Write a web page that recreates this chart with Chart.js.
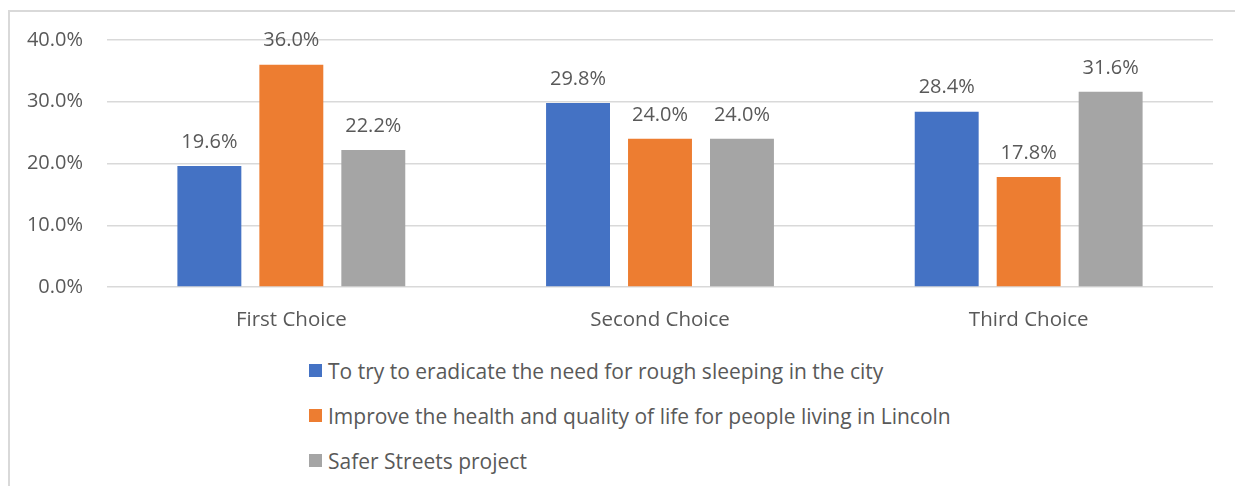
<!DOCTYPE html>
<html>
<head>
<meta charset="utf-8">
<script src="https://cdn.jsdelivr.net/npm/chart.js@4"></script>
<style>
  body { margin: 0; background: #fff; width: 1235px; height: 486px; overflow: hidden; position: relative; font-family: "Open Sans", sans-serif; }
  #frame { position: absolute; left: 8px; top: 10px; width: 1400px; height: 600px; border: 2px solid #d9d9d9; box-sizing: border-box; }
  #wrap { position: absolute; left: 0; top: 0; width: 1235px; height: 340px; }
  #legend { position: absolute; left: 309px; top: 357px; color: #595959; font-size: 21px; }
  .item { display: flex; align-items: center; height: 27px; margin-bottom: 18px; }
  .box { width: 13px; height: 13px; margin-right: 6px; }
</style>
</head>
<body>
<div id="frame"></div>
<div id="wrap"><canvas id="surveyChart"></canvas></div>
<div id="legend"></div>
<script>
// survey answers, percent per choice
const choices = ['First Choice', 'Second Choice', 'Third Choice'];
const roughSleeping = [19.6, 29.8, 28.4];
const healthQuality = [36.0, 24.0, 17.8];
const saferStreets = [22.2, 24.0, 31.6];
const seriesNames = [
  'To try to eradicate the need for rough sleeping in the city',
  'Improve the health and quality of life for people living in Lincoln',
  'Safer Streets project'
];
const seriesColors = ['#4472C4', '#ED7D31', '#A5A5A5'];
const yTicks = [0, 10, 20, 30, 40];

const textColor = '#595959';
const font = { family: '"Open Sans", sans-serif', size: 20 };

// labels above each bar
const barLabels = {
  id: 'barLabels',
  afterDatasetsDraw(chart) {
    const ctx = chart.ctx;
    ctx.save();
    ctx.fillStyle = textColor;
    ctx.font = '20px "Open Sans", sans-serif';
    ctx.textAlign = 'center';
    ctx.textBaseline = 'middle';
    chart.data.datasets.forEach((ds, i) => {
      chart.getDatasetMeta(i).data.forEach((bar, j) => {
        ctx.fillText(ds.data[j].toFixed(1) + '%', bar.x, bar.y - 24);
      });
    });
    ctx.restore();
  }
};

const ctx = document.getElementById('surveyChart').getContext('2d');
new Chart(ctx, {
  type: 'bar',
  data: {
    labels: choices,
    datasets: [roughSleeping, healthQuality, saferStreets].map((d, i) => ({
      label: seriesNames[i],
      data: d,
      backgroundColor: seriesColors[i],
      categoryPercentage: 0.667,
      barPercentage: 0.78
    }))
  },
  options: {
    responsive: true,
    maintainAspectRatio: false,
    animation: false,
    layout: { padding: { top: 40, right: 22, left: 0, bottom: 0 } },
    plugins: { legend: { display: false }, tooltip: { enabled: false } },
    scales: {
      x: {
        grid: { display: false },
        border: { display: false },
        ticks: { color: textColor, font: { family: font.family, size: 20.5 }, padding: 13 },
        afterFit: s => { s.height = 53; }
      },
      y: {
        min: 0,
        max: 40,
        afterBuildTicks: s => { s.ticks = yTicks.map(v => ({ value: v })); },
        grid: { color: '#d9d9d9', lineWidth: 1.5, drawTicks: false },
        border: { display: false },
        ticks: { color: textColor, font: font, padding: 24, callback: v => v.toFixed(1) + '%' },
        afterFit: s => { s.width = 107; }
      }
    }
  },
  plugins: [barLabels]
});

// legend stacked under the plot
const legend = document.getElementById('legend');
seriesNames.forEach((name, i) => {
  const row = document.createElement('div');
  row.className = 'item';
  row.innerHTML = '<span class="box" style="background:' + seriesColors[i] + '"></span><span>' + name + '</span>';
  legend.appendChild(row);
});
</script>
</body>
</html>
